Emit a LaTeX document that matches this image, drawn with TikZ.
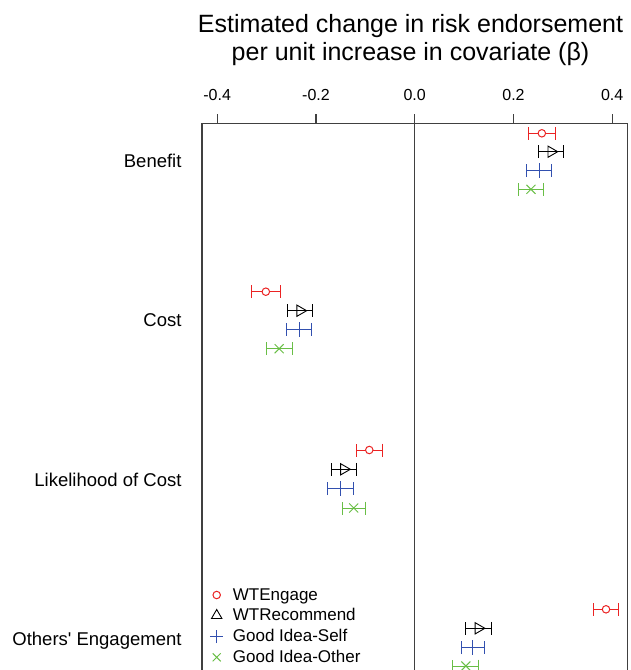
\documentclass[tikz,border=0pt]{standalone}
\usepackage{fontspec}
\setmainfont{Liberation Sans}
\usetikzlibrary{shapes.geometric, shapes.misc, arrows.meta}

\definecolor{engred}{RGB}{235,35,35}
\definecolor{selfblue}{RGB}{50,80,175}
\definecolor{othgreen}{RGB}{105,190,70}

\begin{document}
\begin{tikzpicture}[x=1pt, y=-1pt]
  \tikzstyle{frame} = [draw=black!75, line width=1.1pt]
  \tikzstyle{titletext} = [anchor=base, inner sep=0pt, font=\fontsize{25}{30}\selectfont]
  \tikzstyle{ticklabel} = [anchor=base, inner sep=0pt, font=\fontsize{16}{19}\selectfont]
  \tikzstyle{rowlabel} = [anchor=base east, inner sep=0pt, font=\fontsize{18.5}{22}\selectfont]
  \tikzstyle{legtext} = [anchor=base west, inner sep=0pt, font=\fontsize{17}{20}\selectfont]
  \tikzstyle{errbar} = [line width=1pt, {Bar[width=13pt]}-{Bar[width=13pt]}]
  \tikzstyle{engmark} = [circle, draw=engred, fill=white, line width=1pt, inner sep=0pt, minimum size=7.5pt]
  \tikzstyle{recmark} = [regular polygon, regular polygon sides=3, shape border rotate=-90, draw=black, line width=0.9pt, inner sep=0pt, minimum size=13pt]
  \tikzstyle{selfmark} = [cross out, rotate=45, draw=selfblue, line width=1pt, inner sep=0pt, minimum size=9.2pt]
  \tikzstyle{othmark} = [cross out, draw=othgreen, line width=1pt, inner sep=0pt, minimum size=8pt]

  \useasboundingbox (0,0) rectangle (631,670);

  % Title
  \node (title1) at (410.5,32) [titletext] {Estimated change in risk endorsement};
  \node (title2) at (410.5,60) [titletext] {per unit increase in covariate (β)};

  % Axis, ticks and frame
  \draw[frame] (202,670) -- (202,123.5) -- (627.5,123.5) -- (627.5,670);
  \draw[frame] (414.7,123.5) -- (414.7,670);
  \draw[frame] (217.2,123.5) -- (217.2,114);
  \draw[frame] (316,123.5) -- (316,114);
  \draw[frame] (414.7,123.5) -- (414.7,114);
  \draw[frame] (513.5,123.5) -- (513.5,114);
  \draw[frame] (612.2,123.5) -- (612.2,114);
  \node (tm4) at (217.2,100.7) [ticklabel] {-0.4};
  \node (tm2) at (316,100.7) [ticklabel] {-0.2};
  \node (t0) at (414.7,100.7) [ticklabel] {0.0};
  \node (tp2) at (513.5,100.7) [ticklabel] {0.2};
  \node (tp4) at (612.2,100.7) [ticklabel] {0.4};

  % Row labels
  \node (benefit) at (181.7,167.3) [rowlabel] {Benefit};
  \node (cost) at (181.7,326.3) [rowlabel] {Cost};
  \node (likely) at (181.7,486.2) [rowlabel] {Likelihood of Cost};
  \node (others) at (181.7,645.2) [rowlabel] {Others\textquotesingle{} Engagement};

  \begin{scope}[xshift=414.7pt, x=493.75pt]
    % Benefit
    \draw[errbar, engred] (0.229,133.3) -- (0.286,133.3) node[midway, engmark] (ben-eng) {};
    \draw[errbar, black] (0.250,151.7) -- (0.303,151.7) node[midway, recmark] (ben-rec) {};
    \draw[errbar, selfblue] (0.225,170.7) -- (0.279,170.7) node[midway, selfmark] (ben-self) {};
    \draw[errbar, othgreen] (0.209,189.3) -- (0.262,189.3) node[midway, othmark] (ben-oth) {};

    % Cost
    \draw[errbar, engred] (-0.332,291.7) -- (-0.271,291.7) node[midway, engmark] (cost-eng) {};
    \draw[errbar, black] (-0.259,310.7) -- (-0.205,310.7) node[midway, recmark] (cost-rec) {};
    \draw[errbar, selfblue] (-0.261,329.3) -- (-0.207,329.3) node[midway, selfmark] (cost-self) {};
    \draw[errbar, othgreen] (-0.302,348.7) -- (-0.247,348.7) node[midway, othmark] (cost-oth) {};

    % Likelihood of Cost
    \draw[errbar, engred] (-0.119,450) -- (-0.065,450) node[midway, engmark] (lik-eng) {};
    \draw[errbar, black] (-0.170,469.3) -- (-0.117,469.3) node[midway, recmark] (lik-rec) {};
    \draw[errbar, selfblue] (-0.178,488.7) -- (-0.122,488.7) node[midway, selfmark] (lik-self) {};
    \draw[errbar, othgreen] (-0.148,508) -- (-0.099,508) node[midway, othmark] (lik-oth) {};

    % Others' Engagement
    \draw[errbar, engred] (0.361,609.3) -- (0.414,609.3) node[midway, engmark] (oth-eng) {};
    \draw[errbar, black] (0.102,628.3) -- (0.156,628.3) node[midway, recmark] (oth-rec) {};
    \draw[errbar, selfblue] (0.093,647.7) -- (0.143,647.7) node[midway, selfmark] (oth-self) {};
    \draw[errbar, othgreen] (0.076,666) -- (0.131,666) node[midway, othmark] (oth-oth) {};
  \end{scope}

  % Legend
  \node (key-eng) at (216.7,595) [engmark] {};
  \node (key-rec) at (216.7,615.5) [recmark, shape border rotate=0, minimum size=12pt] {};
  \node (key-self) at (216.7,636.5) [selfmark, minimum size=8.5pt] {};
  \node (key-oth) at (216.7,657.3) [othmark, minimum size=7pt] {};
  \node (lab-eng) at (232.7,600) [legtext] {WTEngage};
  \node (lab-rec) at (232.7,620.7) [legtext] {WTRecommend};
  \node (lab-self) at (232.7,641.4) [legtext] {Good Idea-Self};
  \node (lab-oth) at (232.7,662) [legtext] {Good Idea-Other};
\end{tikzpicture}
\end{document}
